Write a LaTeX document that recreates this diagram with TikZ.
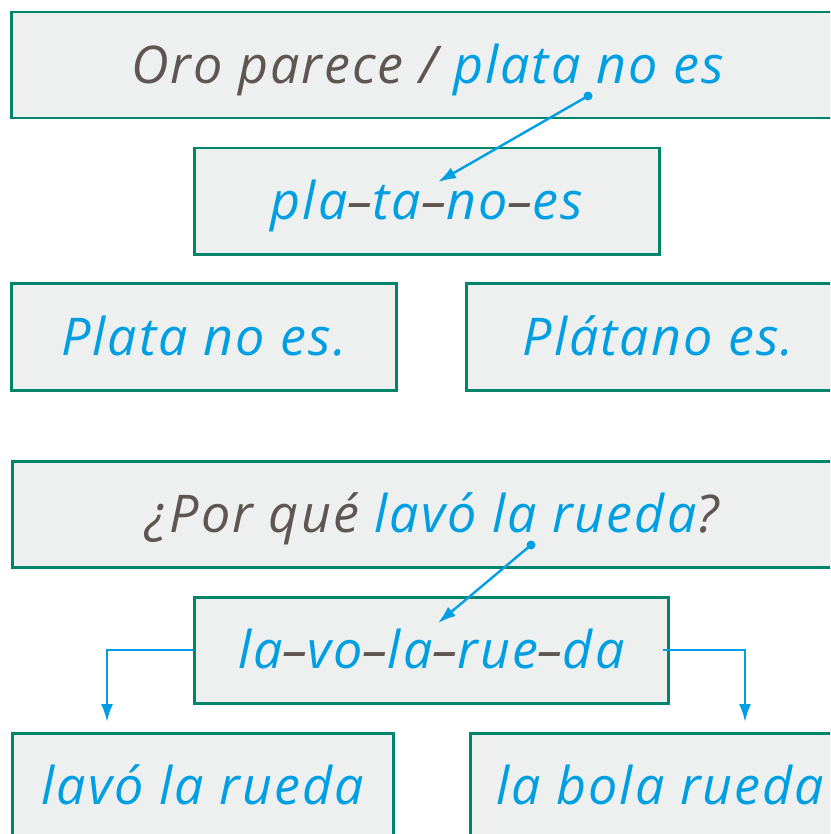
\documentclass[tikz,border=0pt]{standalone}
\usepackage{fontspec}
\setmainfont{Open Sans}[LetterSpace=4]
\usetikzlibrary{arrows.meta}
\definecolor{bx}{HTML}{EDF0EF}
\definecolor{bd}{HTML}{00846B}
\definecolor{bl}{HTML}{009FE3}
\definecolor{gy}{HTML}{5F5551}
\newcommand{\hy}{\textcolor{gy}{–}}
\begin{document}
\begin{tikzpicture}[x=1pt,y=-1pt,
  box/.style={draw=bd, line width=2.5pt, fill=bx, inner sep=0pt, anchor=north west,
    font=\fontsize{52}{60}\selectfont\itshape, text=bl, text height=37pt, text depth=0pt},
  conn/.style={draw=bl, line width=2.4pt},
  tip/.style={-{Latex[length=18pt,width=12pt]}},
  dot/.style={fill=bl}]
\useasboundingbox (0,0) rectangle (830,834);
\clip (0,0) rectangle (830,834);
\node[box, minimum width=832pt, minimum height=106pt] (b1) at (10,11) {\textcolor{gy}{Oro parece /} plata no es};
\node[box, minimum width=465pt, minimum height=106pt] (b2) at (193,147) {pla\hy ta\hy no\hy es};
\node[box, minimum width=385pt, minimum height=107pt] (b3) at (10,282) {Plata no es.};
\node[box, minimum width=384pt, minimum height=107pt] (b4) at (465,282) {Plátano es.};
\node[box, minimum width=840pt, minimum height=106pt] (b5) at (11,460) {\textcolor{gy}{¿Por qué} lavó la rueda\textcolor{gy}{?}};
\node[box, minimum width=474pt, minimum height=106pt] (b6) at (193,596) {la\hy vo\hy la\hy rue\hy da};
\node[box, minimum width=381pt, minimum height=106pt] (b7) at (11,732) {lavó la rueda};
\node[box, minimum width=380pt, minimum height=106pt] (b8) at (469,732) {la bola rueda};
\coordinate (d1) at (588,96);
\coordinate (e1) at (438,182);
\coordinate (d2) at (531,545);
\coordinate (e2) at (438,623);
\coordinate (t1) at (107,722);
\coordinate (t2) at (745,722);
\draw[conn, tip] (d1) -- (e1);
\fill[dot] (d1) circle (4.5pt);
\draw[conn, tip] (d2) -- (e2);
\fill[dot] (d2) circle (4.5pt);
\draw[conn, tip] (b6.west) -| (t1);
\draw[conn, tip] ([xshift=-7pt]b6.east) -| (t2);
\end{tikzpicture}
\end{document}
